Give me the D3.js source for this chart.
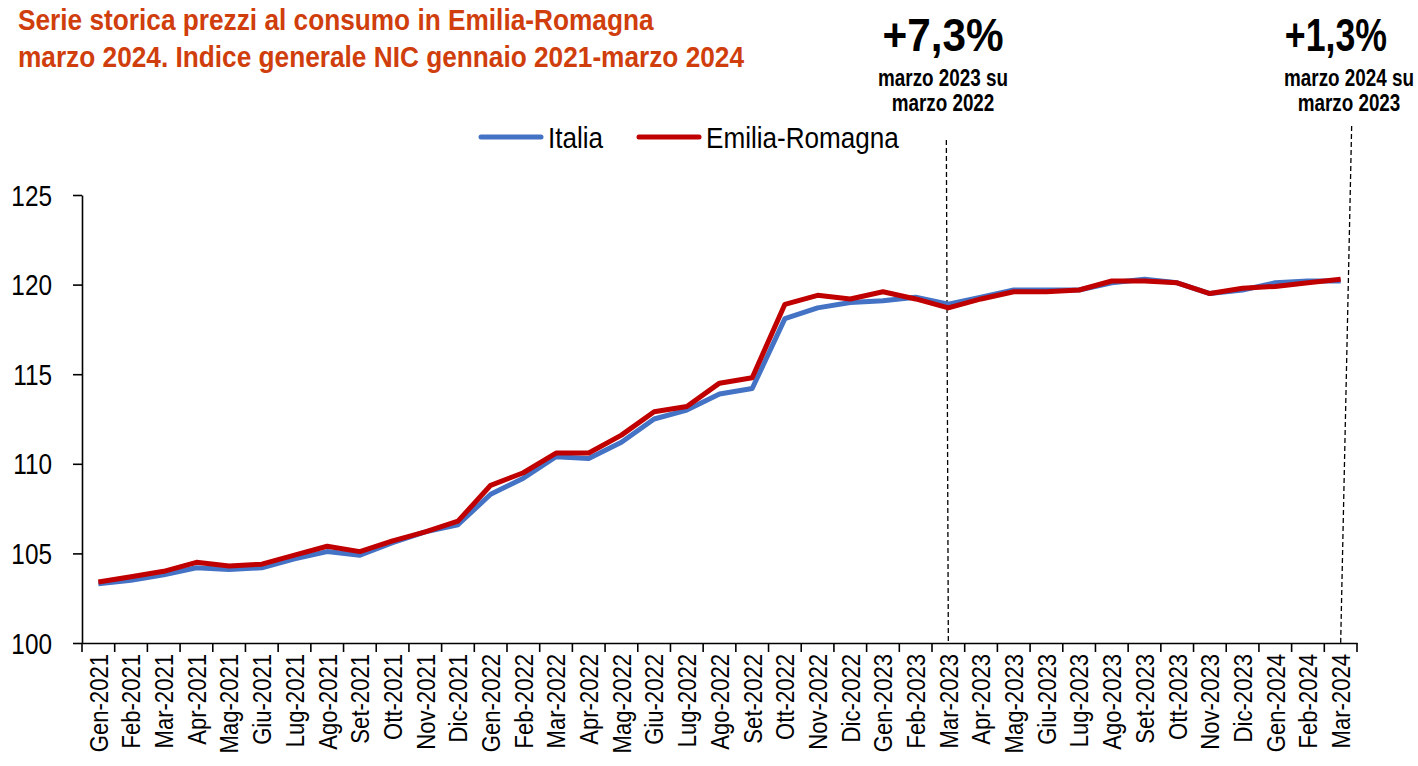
<!DOCTYPE html>
<html>
<head>
<meta charset="utf-8">
<script src="https://d3js.org/d3.v7.min.js"></script>
<style>
  body { margin: 0; background: #fff; }
  svg text { font-family: "Liberation Sans Narrow", "Arial Narrow", "Liberation Sans", Arial, sans-serif; }
</style>
</head>
<body>
<div id="container"></div>
<script>
// mesi (asse x)
const mesi = [
  "Gen-2021","Feb-2021","Mar-2021","Apr-2021","Mag-2021","Giu-2021","Lug-2021","Ago-2021","Set-2021","Ott-2021","Nov-2021","Dic-2021",
  "Gen-2022","Feb-2022","Mar-2022","Apr-2022","Mag-2022","Giu-2022","Lug-2022","Ago-2022","Set-2022","Ott-2022","Nov-2022","Dic-2022",
  "Gen-2023","Feb-2023","Mar-2023","Apr-2023","Mag-2023","Giu-2023","Lug-2023","Ago-2023","Set-2023","Ott-2023","Nov-2023","Dic-2023",
  "Gen-2024","Feb-2024","Mar-2024"
];

// indice NIC
const italia = [
  103.3,103.5,103.8,104.2,104.1,104.2,104.7,105.1,104.9,105.6,106.2,106.6,
  108.3,109.2,110.4,110.3,111.2,112.5,113.0,113.9,114.2,118.1,118.7,119.0,
  119.1,119.3,118.9,119.3,119.7,119.7,119.7,120.1,120.3,120.1,119.5,119.7,
  120.1,120.2,120.2
];
const emilia = [
  103.4,103.7,104.0,104.5,104.3,104.4,104.9,105.4,105.1,105.7,106.2,106.8,
  108.8,109.5,110.6,110.6,111.6,112.9,113.2,114.5,114.8,118.9,119.4,119.2,
  119.6,119.2,118.7,119.2,119.6,119.6,119.7,120.2,120.2,120.1,119.5,119.8,
  119.9,120.1,120.3
];

const yTicks = [100, 105, 110, 115, 120, 125];

const serie = [
  { nome: "Italia", valori: italia, colore: "#4472C4" },
  { nome: "Emilia-Romagna", valori: emilia, colore: "#C00000" }
];

// annotazioni variazioni tendenziali
const note = [
  { mese: "Mar-2023", valore: "+7,3%", righe: ["marzo 2023 su", "marzo 2022"] },
  { mese: "Mar-2024", valore: "+1,3%", righe: ["marzo 2024 su", "marzo 2023"] }
];

const width = 1418, height = 766;
const margin = { top: 195, right: 61, bottom: 123, left: 82 };

const svg = d3.select('#container').append('svg')
  .attr('width', width).attr('height', height);

// niente font "narrow" installato: comprimo il testo in orizzontale
// (sposto x,y nel transform e scalo solo l'asse x del testo)
function narrow(sel, f, rot) {
  sel.each(function () {
    const t = d3.select(this);
    const tx = +t.attr('x') || 0, ty = +t.attr('y') || 0;
    const pre = rot ? `rotate(${rot}) ` : '';
    t.attr('x', 0).attr('y', 0)
     .attr('transform', `${pre}translate(${tx},${ty}) scale(${f},1)`);
  });
}

const x = d3.scaleBand()
  .domain(mesi)
  .range([margin.left, width - margin.right])
  .padding(0);
const bw = x.bandwidth();
const cx = m => x(m) + bw / 2;

const y = d3.scaleLinear()
  .domain([100, 125])
  .range([height - margin.bottom, margin.top]);

// titolo
svg.append('g').selectAll('text')
  .data(["Serie storica prezzi al consumo in Emilia-Romagna",
         "marzo 2024. Indice generale NIC gennaio 2021-marzo 2024"])
  .join('text')
    .attr('x', 18)
    .attr('y', (d, i) => 30 + i * 37)
    .attr('fill', '#cf3e0c')
    .attr('font-weight', 'bold')
    .attr('font-size', 29)
    .text(d => d)
    .call(narrow, 0.905);

// asse y
const yAxis = svg.append('g')
  .attr('transform', `translate(${margin.left},0)`)
  .call(d3.axisLeft(y).tickValues(yTicks).tickSize(9).tickSizeOuter(0));
yAxis.select('.domain').attr('stroke', '#000').attr('stroke-width', 1.6);
yAxis.selectAll('.tick line').attr('stroke-width', 1.6);
yAxis.selectAll('text').attr('font-size', 29).attr('fill', '#000').attr('dy', '0.35em')
  .attr('x', -30)
  .call(narrow, 0.84);

// asse x: tacche ai bordi delle categorie
const xAxis = svg.append('g')
  .attr('transform', `translate(0,${y(100)})`)
  .call(d3.axisBottom(x).tickSize(9).tickSizeOuter(0));
xAxis.select('.domain').attr('stroke', '#000').attr('stroke-width', 1.6);
xAxis.selectAll('.tick line')
  .attr('stroke-width', 1.6)
  .attr('transform', `translate(${-bw / 2},0)`);
xAxis.append('line')
  .attr('x1', width - margin.right).attr('x2', width - margin.right)
  .attr('y1', 0).attr('y2', 9)
  .attr('stroke', '#000').attr('stroke-width', 1.6);
xAxis.selectAll('.tick text')
  .attr('font-size', 26)
  .attr('fill', '#000')
  .attr('text-anchor', 'end')
  .attr('x', -11)
  .attr('y', 0)
  .attr('dy', '0.36em')
  .call(narrow, 0.85, -90);

// linee tratteggiate
const topY = [140, 126];
const shiftTop = [-2, 11];
note.forEach((n, i) => {
  svg.append('line')
    .attr('x1', cx(n.mese) + shiftTop[i]).attr('y1', topY[i])
    .attr('x2', cx(n.mese)).attr('y2', y(100))
    .attr('stroke', '#000')
    .attr('stroke-width', 1.3)
    .attr('stroke-dasharray', '5,3');
});

// serie
const line = d3.line()
  .x((d, i) => cx(mesi[i]))
  .y(d => y(d));

svg.selectAll('path.serie')
  .data(serie)
  .join('path')
    .attr('class', 'serie')
    .attr('d', d => line(d.valori))
    .attr('fill', 'none')
    .attr('stroke', d => d.colore)
    .attr('stroke-width', 5)
    .attr('stroke-linejoin', 'round');

// legenda
const leg = [{ x: 481, s: serie[0] }, { x: 639, s: serie[1] }];
leg.forEach(l => {
  svg.append('line')
    .attr('x1', l.x).attr('x2', l.x + 60)
    .attr('y1', 137).attr('y2', 137)
    .attr('stroke', l.s.colore).attr('stroke-width', 5)
    .attr('stroke-linecap', 'round');
  svg.append('text')
    .attr('x', l.x + 67).attr('y', 148)
    .attr('font-size', 30)
    .attr('fill', '#000')
    .text(l.s.nome)
    .call(narrow, 0.87);
});

// annotazioni
const annX = [943, 1336];
const annF = [0.9, 0.76];
const righeX = [943, 1349];
note.forEach((n, i) => {
  svg.append('text')
    .attr('x', annX[i]).attr('y', 51)
    .attr('text-anchor', 'middle')
    .attr('font-weight', 'bold')
    .attr('font-size', 47)
    .attr('fill', '#000')
    .text(n.valore)
    .call(narrow, annF[i]);
  svg.append('g').selectAll('text')
    .data(n.righe)
    .join('text')
      .attr('x', righeX[i])
      .attr('y', (d, j) => 86 + j * 25)
      .attr('text-anchor', 'middle')
      .attr('font-weight', 'bold')
      .attr('font-size', 23)
      .attr('fill', '#000')
      .text(d => d)
      .call(narrow, 0.82);
});
</script>
</body>
</html>
